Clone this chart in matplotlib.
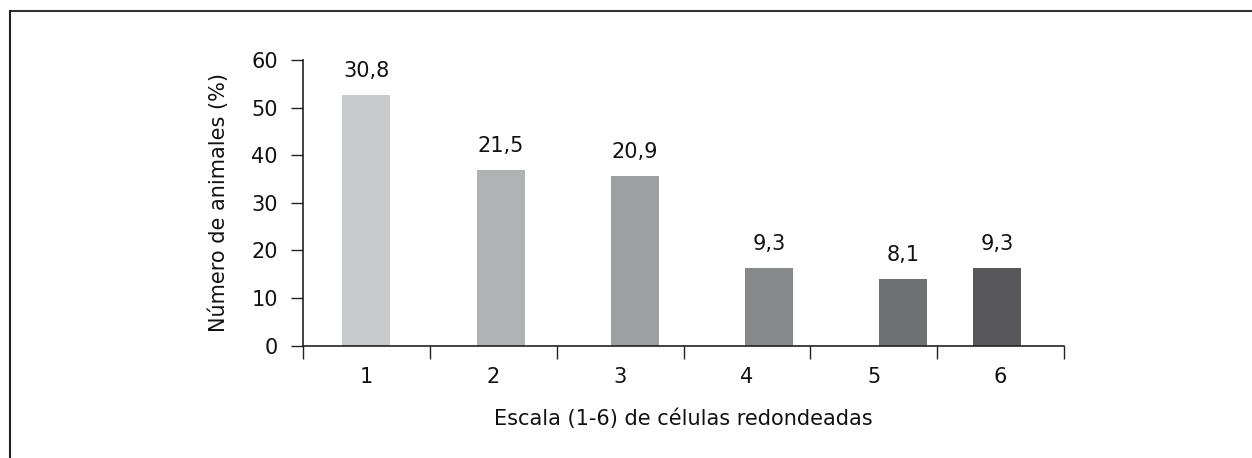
import matplotlib
matplotlib.use("Agg")
import matplotlib.pyplot as plt
import numpy as np
from matplotlib.lines import Line2D

categories = ["1", "2", "3", "4", "5", "6"]
bar_values = [52.6, 36.9, 35.6, 16.3, 14.1, 16.3]
pct_labels = ["30,8", "21,5", "20,9", "9,3", "8,1", "9,3"]
y_ticks = [0, 10, 20, 30, 40, 50, 60]

# style / placement
bar_offsets = [0.0, 0.059, 0.117, 0.175, 0.232, -0.027]
bar_colors = ["#C8C9CA", "#B1B2B3", "#9E9FA0", "#87888A", "#707173", "#58585A"]

FS = 15
plt.rcParams['font.family'] = ['DejaVu Sans']
fig = plt.figure(figsize=(12.52, 4.58), dpi=100)
ax = fig.add_axes([303/1252, (458-345.7)/458, (1064-303)/1252, 285.7/458])

x = np.arange(len(categories)) + 0.5 + np.array(bar_offsets)
bars = ax.bar(x, bar_values, width=0.379, color=bar_colors, edgecolor='none', zorder=2)
for xi, v, lab in zip(x, bar_values, pct_labels):
    ax.annotate(lab, (xi, v), xytext=(0, 13), textcoords='offset points',
                ha='center', va='baseline', fontsize=FS, color='#111111')

ax.set_xlim(0, 6)
ax.set_ylim(0, 60)
ax.set_yticks(y_ticks)
ax.set_yticklabels([str(t) for t in y_ticks], fontsize=FS, color='#111111')
ax.set_xticks(np.arange(0, 7))
ax.set_xticklabels([])
ax.set_xticks(np.arange(len(categories)) + 0.5, minor=True)
ax.set_xticklabels(categories, minor=True, fontsize=FS, color='#111111')
ax.tick_params(axis='x', which='major', direction='out', length=9, width=1, color='#222222')
ax.tick_params(axis='x', which='minor', length=0, pad=15)
ax.tick_params(axis='y', direction='out', length=9, width=1, color='#222222', pad=9)
for s in ['top', 'right']:
    ax.spines[s].set_visible(False)
for s in ['left', 'bottom']:
    ax.spines[s].set_color('#222222')
    ax.spines[s].set_linewidth(1.2)

ax.set_ylabel("Número de animales (%)", fontsize=FS, color='#111111', labelpad=16)
ax.set_xlabel("Escala (1-6) de células redondeadas", fontsize=FS, color='#111111', labelpad=16)

# partial frame (top and left)
fig.add_artist(Line2D([9.5/1252, 1.0], [1 - 11/458, 1 - 11/458], transform=fig.transFigure,
                      color='#333333', linewidth=1.5))
fig.add_artist(Line2D([9.5/1252, 9.5/1252], [0, 1 - 11/458], transform=fig.transFigure,
                      color='#222222', linewidth=1.5))

fig.savefig("out.png", dpi=100, facecolor='white')
